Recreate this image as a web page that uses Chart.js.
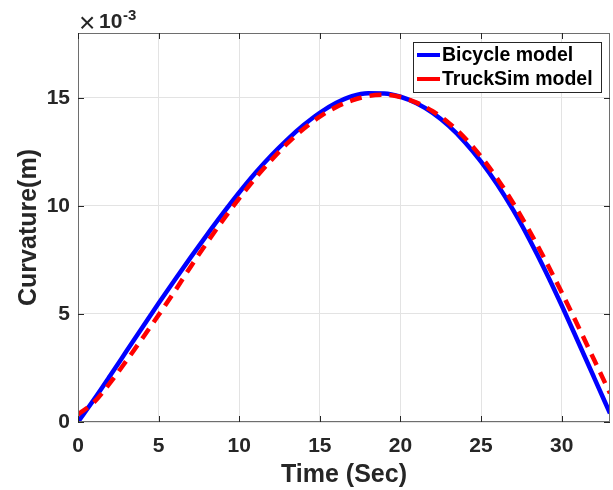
<!DOCTYPE html>
<html>
<head>
<meta charset="utf-8">
<script src="https://cdn.jsdelivr.net/npm/chart.js@4.4.1/dist/chart.umd.min.js"></script>
<style>
  html, body { margin: 0; padding: 0; background: #fff; }
  #wrap { width: 613px; height: 490px; }
</style>
</head>
<body>
<div id="wrap"><canvas id="CurvatureChart" width="613" height="490"></canvas></div>
<script>
// time samples (sec)
const timeSec = [0, 1, 2, 3, 4, 5, 6, 7, 8, 9, 10, 11, 12, 13, 14, 15, 16, 17, 18, 19, 20, 21, 22, 23, 24, 25, 26, 27, 28, 29, 30, 31, 32, 33];
// curvature values, x10^-3
const bicycleModel = [0, 1.05, 2.15, 3.27, 4.39, 5.49, 6.57, 7.63, 8.66, 9.66, 10.62, 11.52, 12.34, 13.08, 13.74, 14.31, 14.76, 15.08, 15.21, 15.2, 15.05, 14.75, 14.3, 13.7, 12.95, 12.05, 11.0, 9.8, 8.45, 6.98, 5.4, 3.75, 2.08, 0.4];
const truckSimModel = [0.35, 0.92, 1.82, 2.83, 3.88, 4.95, 6.05, 7.2, 8.3, 9.35, 10.35, 11.28, 12.13, 12.9, 13.57, 14.13, 14.57, 14.88, 15.08, 15.14, 15.04, 14.78, 14.38, 13.84, 13.14, 12.28, 11.27, 10.12, 8.85, 7.47, 6.0, 4.47, 2.9, 1.33];
const xTickValues = [0, 5, 10, 15, 20, 25, 30];
const yTickValues = [0, 5, 10, 15];
const seriesLabels = ["Bicycle model", "TruckSim model"];

const FONT = "'Liberation Sans', Arial, Helvetica, sans-serif";
const AXIS_DARK = "#262626";

function toPoints(xs, ys) {
  return xs.map((x, i) => ({ x: x, y: ys[i] }));
}

// box, inward ticks, legend and exponent label, MATLAB style
const matlabBox = {
  id: "matlabBox",
  afterDatasetsDraw(chart) {
    const ctx = chart.ctx;
    const a = chart.chartArea;
    const xs = chart.scales.x;
    const ys = chart.scales.y;
    ctx.save();
    ctx.strokeStyle = "#6e6e6e";
    ctx.lineWidth = 1;
    ctx.strokeRect(a.left + 0.5, a.top + 0.5, a.right - a.left - 1, a.bottom - a.top - 1);
    ctx.strokeStyle = AXIS_DARK;
    xTickValues.forEach((v) => {
      const px = Math.round(xs.getPixelForValue(v)) + 0.5;
      ctx.beginPath();
      ctx.moveTo(px, a.bottom); ctx.lineTo(px, a.bottom - 6);
      ctx.moveTo(px, a.top); ctx.lineTo(px, a.top + 6);
      ctx.stroke();
    });
    yTickValues.forEach((v) => {
      const py = Math.round(ys.getPixelForValue(v)) + 0.5;
      ctx.beginPath();
      ctx.moveTo(a.left, py); ctx.lineTo(a.left + 6, py);
      ctx.moveTo(a.right, py); ctx.lineTo(a.right - 6, py);
      ctx.stroke();
    });

    // legend
    const lx = 413, ly = 42, lw = 188, lh = 50;
    ctx.fillStyle = "#fff";
    ctx.fillRect(lx, ly, lw, lh);
    ctx.strokeStyle = "#262626";
    ctx.lineWidth = 1;
    ctx.strokeRect(lx + 0.5, ly + 0.5, lw, lh);
    ctx.font = "bold 19.5px " + FONT;
    ctx.textBaseline = "middle";
    ctx.textAlign = "left";
    chart.data.datasets.forEach((ds, i) => {
      const cy = ly + 13 + i * 24;
      ctx.strokeStyle = ds.borderColor;
      ctx.lineWidth = 4;
      ctx.setLineDash([]);
      ctx.beginPath();
      ctx.moveTo(417, cy); ctx.lineTo(440, cy);
      ctx.stroke();
      ctx.fillStyle = "#000";
      ctx.fillText(ds.label, 442, cy + 1);
    });

    // x10^-3
    ctx.fillStyle = AXIS_DARK;
    ctx.textBaseline = "alphabetic";
    ctx.font = "28px " + FONT;
    ctx.fillText("\u00d7", 79, 32);
    ctx.font = "bold 21px " + FONT;
    ctx.fillText("10", 99, 28);
    ctx.font = "bold 15px " + FONT;
    ctx.fillText("-3", 123, 20);
    ctx.restore();
  }
};

new Chart(document.getElementById("CurvatureChart"), {
  type: "line",
  data: {
    datasets: [
      {
        label: seriesLabels[0],
        data: toPoints(timeSec, bicycleModel),
        borderColor: "#0000ff",
        borderWidth: 4.5,
        pointRadius: 0,
        cubicInterpolationMode: "monotone",
        order: 2,
      },
      {
        label: seriesLabels[1],
        data: toPoints(timeSec, truckSimModel),
        borderColor: "#ff0000",
        borderWidth: 4.5,
        borderDash: [12, 8],
        pointRadius: 0,
        cubicInterpolationMode: "monotone",
        order: 1,
      },
    ],
  },
  options: {
    responsive: false,
    animation: false,
    devicePixelRatio: 1,
    layout: { padding: { top: 33, right: 3, left: 0, bottom: 0 } },
    plugins: { legend: { display: false }, tooltip: { enabled: false } },
    scales: {
      x: {
        type: "linear",
        min: 0,
        max: 33,
        afterBuildTicks: (s) => { s.ticks = xTickValues.map((v) => ({ value: v })); },
        afterFit: (s) => { s.height = 68; },
        grid: { color: "#e3e3e3", drawTicks: false },
        border: { display: false },
        ticks: { color: AXIS_DARK, font: { family: FONT, size: 21, weight: "bold" }, padding: 12, maxRotation: 0 },
        title: { display: true, text: "Time (Sec)", color: AXIS_DARK, font: { family: FONT, size: 25, weight: "bold" }, padding: { top: 0, bottom: 0 } },
      },
      y: {
        min: 0,
        max: 18,
        afterBuildTicks: (s) => { s.ticks = yTickValues.map((v) => ({ value: v })); },
        afterFit: (s) => { s.width = 78; },
        grid: { color: "#e3e3e3", drawTicks: false },
        border: { display: false },
        ticks: { color: AXIS_DARK, font: { family: FONT, size: 21, weight: "bold" }, padding: 8 },
        title: { display: true, text: "Curvature(m)", color: AXIS_DARK, font: { family: FONT, size: 25, weight: "bold" }, padding: { top: 14, bottom: 0 } },
      },
    },
  },
  plugins: [matlabBox],
});
</script>
</body>
</html>
